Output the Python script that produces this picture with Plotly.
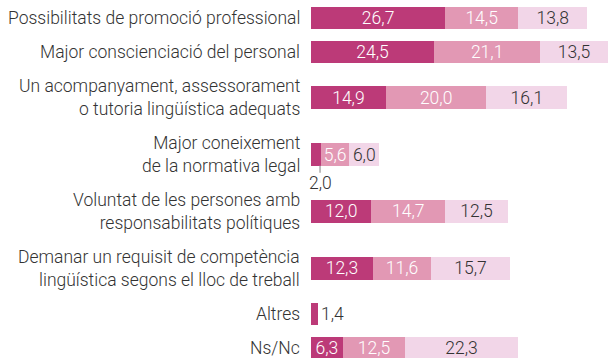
import plotly.graph_objects as go

# Survey categories (top to bottom) and the three stacked response groups
categories = [
    "Possibilitats de promoció professional",
    "Major conscienciació del personal",
    "Un acompanyament, assessorament<br>o tutoria lingüística adequats",
    "Major coneixement<br>de la normativa legal",
    "Voluntat de les persones amb<br>responsabilitats polítiques",
    "Demanar un requisit de competència<br>lingüística segons el lloc de treball",
    "Altres",
    "Ns/Nc",
]

group_1 = [26.7, 24.5, 14.9, 2.0, 12.0, 12.3, 1.4, 6.3]
group_2 = [14.5, 21.1, 20.0, 5.6, 14.7, 11.6, None, 12.5]
group_3 = [13.8, 13.5, 16.1, 6.0, 12.5, 15.7, None, 22.3]

# Styling
FONT = "Roboto"
TEXT_DARK = "#333333"
colors = ["#BC3A78", "#E298B4", "#F2D6E8"]
W, H = 608, 358
BAR_LEFT = 311
BAR_H = 22.6
SMALL = 4.0  # segments narrower than this get their label outside

series = [group_1, group_2, group_3]
totals = [sum(v or 0 for v in row) for row in zip(*series)]
x_max = max(totals)

# Row centres in pixels: spacing grows with the number of label lines
lines = [c.count("<br>") + 1 for c in categories]
row_y = [18.0]
for a, b in zip(lines[:-1], lines[1:]):
    row_y.append(row_y[-1] + 11.3 + 11.4 * (a + b))

fig = go.Figure()
for i, (vals, col) in enumerate(zip(series, colors)):
    pos = []
    for j, v in enumerate(vals):
        if v is None:
            pos.append("none")
        elif v < SMALL:
            pos.append("outside" if i == 0 and all(s[j] is None for s in series[1:]) else "none")
        else:
            pos.append("inside")
    fig.add_trace(go.Bar(
        y=row_y, x=vals, orientation="h", width=BAR_H,
        marker=dict(color=col, line=dict(width=0)),
        texttemplate="%{x:.1f}", textposition=pos,
        insidetextanchor="middle", constraintext="none", textangle=0,
        insidetextfont=dict(family=FONT, size=17.5, weight=300,
                            color="white" if i < 2 else TEXT_DARK),
        outsidetextfont=dict(family=FONT, size=17.5, weight=300, color=TEXT_DARK),
        cliponaxis=False, hoverinfo="skip", showlegend=False,
    ))

annotations = []
for cat, y in zip(categories, row_y):
    annotations.append(dict(
        text=cat, xref="paper", x=302 / W, xanchor="right", align="right",
        yref="y", y=y, yanchor="middle", showarrow=False,
        font=dict(family=FONT, size=17.5, weight=300, color=TEXT_DARK),
    ))

# Small inside segment that is labelled below its bar with a leader tick
shapes = []
for j, v in enumerate(group_1):
    if v < SMALL and group_2[j] is not None:
        bottom = row_y[j] + BAR_H / 2
        xt = v - 0.2
        shapes.append(dict(type="line", xref="x", yref="y", x0=xt, x1=xt,
                           y0=bottom, y1=bottom + 7,
                           line=dict(color="#AAAAAA", width=1.5)))
        annotations.append(dict(
            text=f"{v:.1f}".replace(".", ","), xref="x", x=xt, xanchor="center",
            yref="y", y=bottom + 17, yanchor="middle", showarrow=False,
            font=dict(family=FONT, size=17.5, weight=300, color=TEXT_DARK),
        ))

fig.update_layout(
    width=W, height=H, margin=dict(l=0, r=0, t=0, b=0),
    paper_bgcolor="white", plot_bgcolor="white",
    barmode="stack", separators=", ",
    xaxis=dict(domain=[BAR_LEFT / W, 1], range=[0, x_max],
               visible=False, fixedrange=True),
    yaxis=dict(range=[H, 0], visible=False, fixedrange=True),
    annotations=annotations, shapes=shapes,
    font=dict(family=FONT, weight=300, color=TEXT_DARK),
)

fig.write_html("out.html")
